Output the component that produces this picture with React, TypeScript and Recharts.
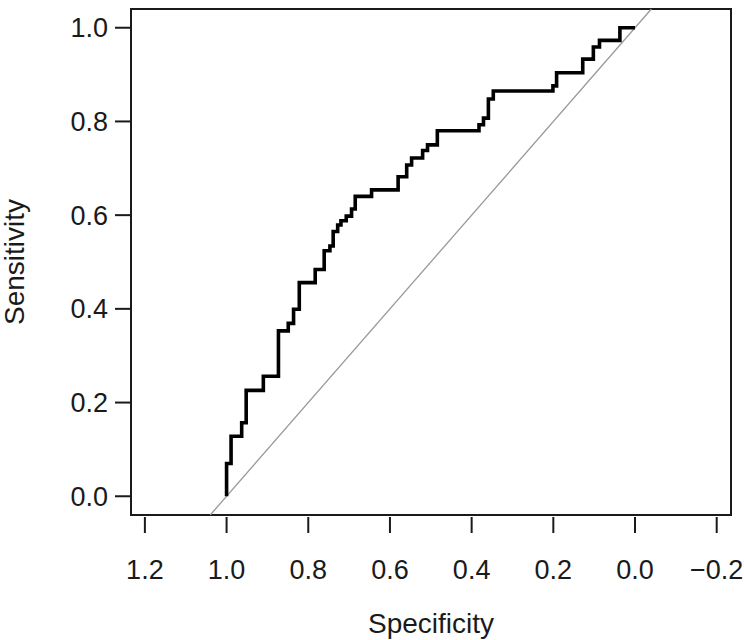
import React from 'react';
import { LineChart, Line, XAxis, YAxis, ReferenceArea, ReferenceLine } from 'recharts';

// ROC curve corners (specificity, sensitivity)
const specificity = [
  1.0, 0.989, 0.963, 0.952, 0.91, 0.873, 0.849, 0.836, 0.822, 0.783, 0.761, 0.747,
  0.739, 0.728, 0.72, 0.707, 0.694, 0.685, 0.645, 0.58, 0.559, 0.547, 0.52, 0.508,
  0.484, 0.382, 0.371, 0.359, 0.347, 0.201, 0.192, 0.128, 0.102, 0.087, 0.037, 0.0,
];
const sensitivity = [
  0.0, 0.07, 0.128, 0.157, 0.226, 0.256, 0.353, 0.369, 0.399, 0.456, 0.484, 0.524,
  0.534, 0.565, 0.579, 0.588, 0.598, 0.613, 0.64, 0.654, 0.682, 0.707, 0.722, 0.738,
  0.75, 0.78, 0.793, 0.807, 0.848, 0.865, 0.876, 0.904, 0.933, 0.959, 0.973, 1.0,
];

const xTicks = [1.2, 1.0, 0.8, 0.6, 0.4, 0.2, 0.0, -0.2];
const yTicks = [0.0, 0.2, 0.4, 0.6, 0.8, 1.0];
const xDomain: [number, number] = [-0.235, 1.234];
const yDomain: [number, number] = [-0.04, 1.04];

const FONT = '"Liberation Sans", Arial, Helvetica, sans-serif';
const INK = '#1a1a1a';

const fmt = (v: number) => v.toFixed(1).replace('-', '\u2212');

const data = specificity.map((s, i) => ({ spec: s, sens: sensitivity[i] }));

// x ticks hang a little below the box, like R's axis()
const XTick = (props: any) => {
  const { x, y, payload } = props;
  return (
    <g>
      <line x1={x} x2={x} y1={y + 2} y2={y + 18} stroke={INK} strokeWidth={2} />
      <text x={x} y={y + 64} textAnchor="middle" fontSize={27} fontFamily={FONT} fill={INK}>
        {fmt(payload.value)}
      </text>
    </g>
  );
};

export default function App() {
  return (
    <div style={{ position: 'absolute', left: 0, top: 0, background: '#fff', fontFamily: FONT }}>
      <LineChart
        width={744}
        height={640}
        data={data}
        margin={{ top: 9, right: 13, left: 0, bottom: 0 }}
      >
        <XAxis
          dataKey="spec"
          type="number"
          domain={xDomain}
          ticks={xTicks}
          reversed
          allowDataOverflow
          height={125}
          axisLine={false}
          tickLine={false}
          tickSize={0}
          tickMargin={0}
          tick={<XTick />}
          interval={0}
          label={{
            content: (p: any) => (
              <text
                x={p.viewBox.x + p.viewBox.width / 2}
                y={p.viewBox.y + p.viewBox.height - 7}
                textAnchor="middle"
                fontSize={28}
                fontFamily={FONT}
                fill={INK}
              >
                Specificity
              </text>
            ),
          }}
        />
        <YAxis
          type="number"
          domain={yDomain}
          ticks={yTicks}
          allowDataOverflow
          width={131}
          axisLine={false}
          tickSize={16}
          tickMargin={7}
          tickLine={{ stroke: INK, strokeWidth: 2 }}
          tick={{ fontSize: 27, fill: INK, fontFamily: FONT }}
          tickFormatter={fmt}
          interval={0}
          label={{
            content: (p: any) => {
              const cx = 24;
              const cy = p.viewBox.y + p.viewBox.height / 2;
              return (
                <text
                  x={cx}
                  y={cy}
                  transform={`rotate(-90 ${cx} ${cy})`}
                  textAnchor="middle"
                  fontSize={28}
                  fontFamily={FONT}
                  fill={INK}
                >
                  Sensitivity
                </text>
              );
            },
          }}
        />
        <ReferenceArea
          x1={xDomain[0]}
          x2={xDomain[1]}
          y1={yDomain[0]}
          y2={yDomain[1]}
          fill="none"
          fillOpacity={0}
          stroke={INK}
          strokeWidth={2}
          ifOverflow="visible"
        />
        <ReferenceLine
          segment={[
            { x: 1 - yDomain[0], y: yDomain[0] },
            { x: 1 - yDomain[1], y: yDomain[1] },
          ]}
          stroke="#999"
          strokeWidth={1.3}
          ifOverflow="visible"
        />
        <Line
          dataKey="sens"
          type="stepBefore"
          stroke="#000"
          strokeWidth={3.6}
          strokeLinejoin="miter"
          strokeLinecap="butt"
          dot={false}
          activeDot={false}
          isAnimationActive={false}
        />
      </LineChart>
    </div>
  );
}
